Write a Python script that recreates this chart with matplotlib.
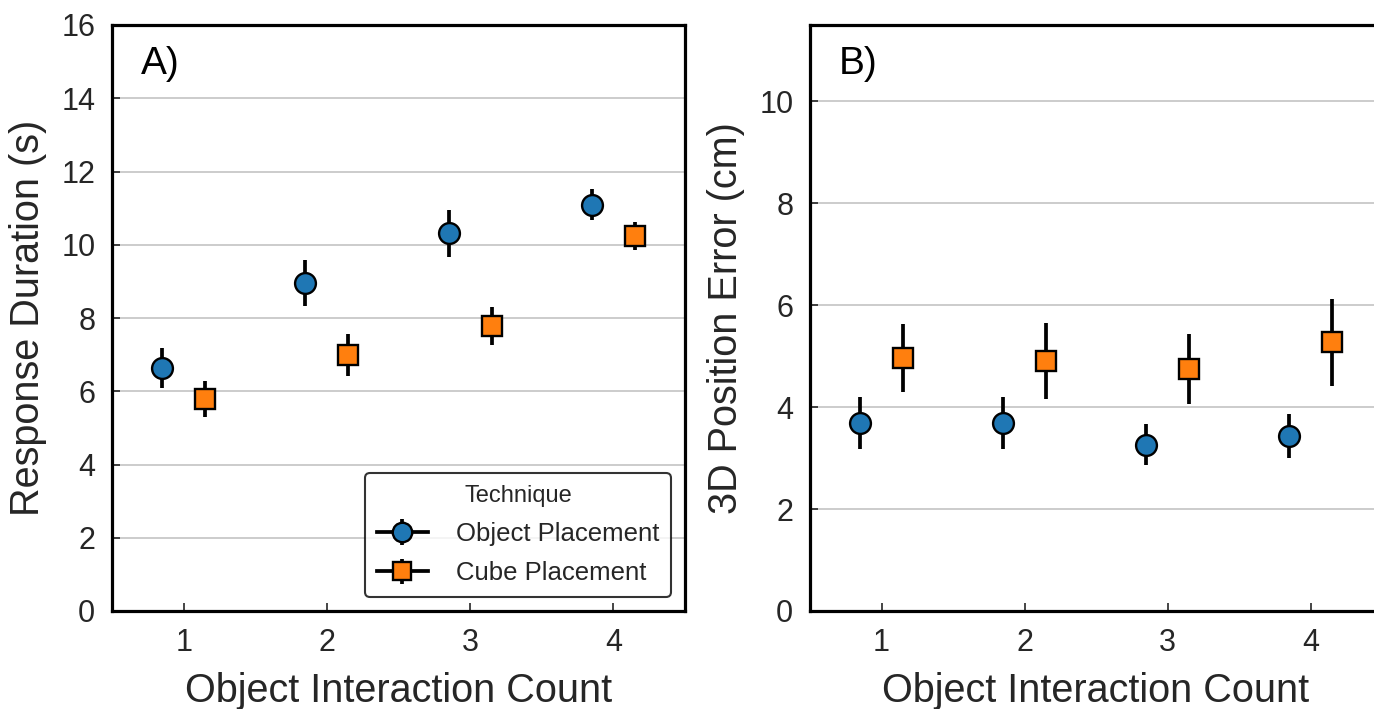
import matplotlib
matplotlib.use("Agg")
from matplotlib import pyplot as plt
import numpy as np

plt.rcParams['font.family'] = ['Liberation Sans', 'DejaVu Sans']

counts = [1, 2, 3, 4]
techniques = ["Object Placement", "Cube Placement"]

# panel A: response duration (s)
dur_obj = [6.64, 8.96, 10.31, 11.09]
dur_obj_err = [0.55, 0.62, 0.64, 0.42]
dur_cube = [5.78, 6.99, 7.78, 10.24]
dur_cube_err = [0.49, 0.57, 0.51, 0.38]

# panel B: 3D position error (cm)
err_obj = [3.68, 3.69, 3.26, 3.43]
err_obj_err = [0.51, 0.51, 0.40, 0.43]
err_cube = [4.96, 4.91, 4.75, 5.27]
err_cube_err = [0.67, 0.74, 0.69, 0.85]

text_col = "#262626"
colors = ["#1f77b4", "#ff7f0e"]
markers = ["o", "s"]
msizes = [15, 14.5]
offset = 0.15

W, H = 1374, 709
fig = plt.figure(figsize=(W / 100, H / 100), dpi=100)
axA = fig.add_axes([112 / W, (H - 611) / H, (685 - 112) / W, (611 - 25) / H])
axB = fig.add_axes([810 / W, (H - 611) / H, (1382 - 810) / W, (611 - 25) / H])


def draw(ax, series, errs, ylim, yticks, ylabel, tag):
    x = np.array(counts, dtype=float)
    for i, (vals, e) in enumerate(zip(series, errs)):
        dx = -offset if i == 0 else offset
        ax.errorbar(x + dx, vals, yerr=e, fmt=markers[i], color="black",
                    ecolor="black", elinewidth=2.7, capsize=0,
                    markersize=msizes[i],
                    markerfacecolor=colors[i], markeredgecolor="black",
                    markeredgewidth=1.7, zorder=3)
        # legend proxy: line + marker + bar, like the seaborn handle
        ax.errorbar([np.nan], [np.nan], yerr=[0.5], fmt="-" + markers[i],
                    color="black", lw=2.7, elinewidth=2.7, markersize=msizes[i] - 1,
                    markerfacecolor=colors[i], markeredgecolor="black",
                    markeredgewidth=1.7, label=techniques[i])
    ax.set_xlim(0.5, 4.5)
    ax.set_ylim(*ylim)
    ax.set_xticks(counts)
    ax.set_yticks(yticks)
    ax.yaxis.grid(True, color="#cccccc", linewidth=1.4, zorder=0)
    ax.set_axisbelow(True)
    for s in ax.spines.values():
        s.set_linewidth(2.3)
        s.set_color("black")
    ax.tick_params(direction="in", length=6, width=1.2, color=text_col,
                   labelsize=22, labelcolor=text_col, pad=12)
    ax.set_xlabel("Object Interaction Count", fontsize=28.5, color=text_col, labelpad=10)
    ax.set_ylabel(ylabel, fontsize=28.5, color=text_col, labelpad=10)
    ax.text(0.05, 0.965, tag, transform=ax.transAxes, fontsize=28,
            va="top", ha="left", color="black")


draw(axA, [dur_obj, dur_cube], [dur_obj_err, dur_cube_err], (0, 16),
     np.arange(0, 17, 2), "Response Duration (s)", "A)")
draw(axB, [err_obj, err_cube], [err_obj_err, err_cube_err], (0, 11.5),
     np.arange(0, 11, 2), "3D Position Error (cm)", "B)")

leg = axA.legend(title="Technique", loc="lower right", bbox_to_anchor=(0.976, 0.024),
                 borderaxespad=0, fontsize=18.5, title_fontsize=17, frameon=True,
                 fancybox=True, edgecolor="black", handlelength=2.0, borderpad=0.45,
                 labelspacing=0.6, handletextpad=1.1)
leg.get_frame().set_linewidth(1.5)
leg.get_title().set_color(text_col)
for t in leg.get_texts():
    t.set_color(text_col)

fig.savefig("out.png", dpi=100)
